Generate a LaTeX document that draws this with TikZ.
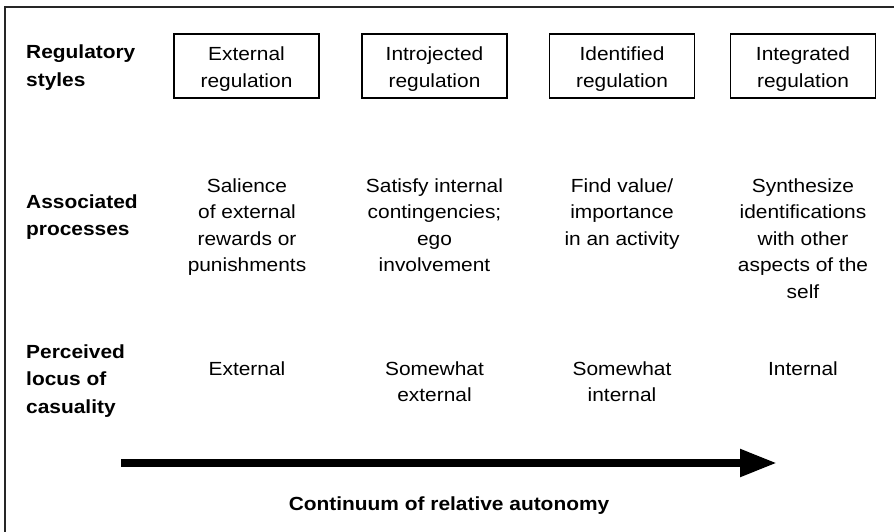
\documentclass[tikz,border=0pt]{standalone}
\usepackage{fontspec}
\setmainfont{Liberation Sans}[FakeStretch=1.1]
\usetikzlibrary{arrows.meta}
\newcommand{\lines}[2]{\begin{tabular}[t]{@{}#1@{}}#2\end{tabular}}
\tikzset{
  x=1pt, y=1pt,
  frameline/.style={line width=1.4pt, black!85},
  regbox/.style={draw, line width=1.1pt, minimum width=145pt, minimum height=64pt, inner sep=0pt},
  coltxt/.style={anchor=base, inner sep=0pt, font=\fontsize{19}{26.5}\selectfont},
  rowlab/.style={anchor=base west, inner sep=0pt, font=\fontsize{19}{27.5}\selectfont\bfseries},
  bigarrow/.style={line width=8pt, -{Triangle[length=37pt,width=26pt]}},
}
\begin{document}
\begin{tikzpicture}
\useasboundingbox (0,0) rectangle (894,-532);
% frame (only top and left edges visible)
\coordinate (fbl) at (5,-540);
\coordinate (ftl) at (5,-7);
\coordinate (ftr) at (900,-7);
\draw[frameline] (fbl) -- (ftl) -- (ftr);

% row labels
\node[rowlab] (l1) at (26,-59) {\lines{l}{Regulatory\\styles}};
\node[rowlab] (l2) at (26,-208) {\lines{l}{Associated\\processes}};
\node[rowlab] (l3) at (26,-358) {\lines{l}{Perceived\\locus of\\casuality}};

% boxes
\node[regbox] (b1) at (246.5,-66) {};
\node[regbox] (b2) at (434.5,-66) {};
\node[regbox] (b3) at (622,-66) {};
\node[regbox] (b4) at (803,-66) {};
\node[coltxt] (bt1) at (246.5,-61) {\lines{c}{External\\regulation}};
\node[coltxt] (bt2) at (434.5,-61) {\lines{c}{Introjected\\regulation}};
\node[coltxt] (bt3) at (622,-61) {\lines{c}{Identified\\regulation}};
\node[coltxt] (bt4) at (803,-61) {\lines{c}{Integrated\\regulation}};

% associated processes
\node[coltxt] (p1) at (247,-192) {\lines{c}{Salience\\of external\\rewards or\\punishments}};
\node[coltxt] (p2) at (434.5,-192) {\lines{c}{Satisfy internal\\contingencies;\\ego\\involvement}};
\node[coltxt] (p3) at (622,-192) {\lines{c}{Find value/\\importance\\in an activity}};
\node[coltxt] (p4) at (803,-192) {\lines{c}{Synthesize\\identifications\\with other\\aspects of the\\self}};

% perceived locus
\node[coltxt] (c1) at (247,-375) {\lines{c}{External}};
\node[coltxt] (c2) at (434.5,-375) {\lines{c}{Somewhat\\external}};
\node[coltxt] (c3) at (622,-375) {\lines{c}{Somewhat\\internal}};
\node[coltxt] (c4) at (803,-375) {\lines{c}{Internal}};

% arrow
\coordinate (as) at (121,-463);
\coordinate (ae) at (777,-463);
\draw[bigarrow] (as) -- (ae);
\node[coltxt, font=\fontsize{19}{26.5}\selectfont\bfseries] (cap) at (449,-510) {Continuum of relative autonomy};
\end{tikzpicture}
\end{document}
